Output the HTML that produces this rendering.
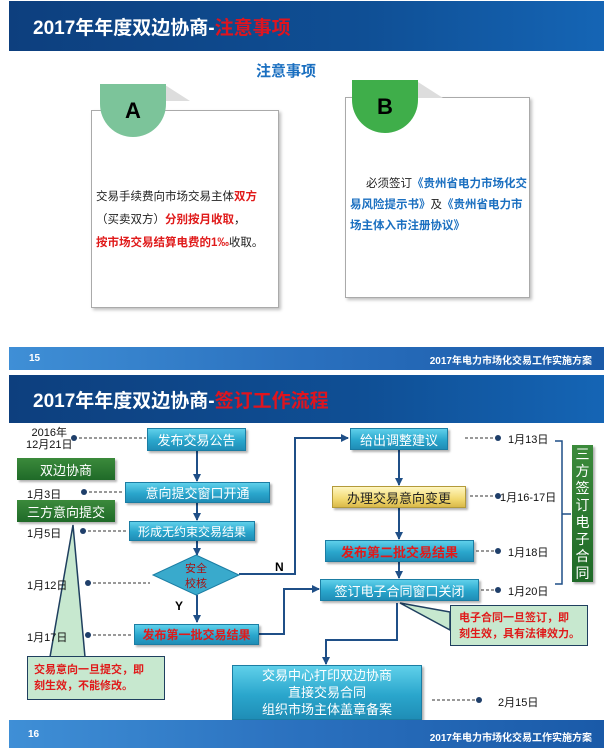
<!DOCTYPE html>
<html><head><meta charset="utf-8"><style>
*{margin:0;padding:0;box-sizing:border-box}
body{width:605px;height:748px;background:#fff;position:relative;overflow:hidden;font-family:"Liberation Sans","Noto Sans CJK SC",sans-serif}
.a{position:absolute}
.hdr{background:linear-gradient(90deg,#0d3f7e,#0f4f95 60%,#1565b5);color:#fff;font-weight:bold;font-size:19px;padding-left:24px;display:flex;align-items:center}
.hdr span{color:#e0141e}
.ftr{background:linear-gradient(90deg,#3f8fd6,#2a70be 50%,#1a5aa8);color:#fff;font-weight:bold;font-size:10px}
.bx{position:absolute;background:linear-gradient(#5fd0ea,#2aa6cc 55%,#1f8db6);border:1px solid #1b7da3;color:#fff;font-size:13px;display:flex;align-items:center;justify-content:center;box-shadow:2px 2px 2px rgba(0,0,0,.3);white-space:nowrap}
.red{color:#e01a1a;font-weight:bold}
.gr{position:absolute;background:linear-gradient(#3b8a3b,#1f6a28);color:#fff;font-size:13px;display:flex;align-items:center;justify-content:center;box-shadow:2px 2px 2px rgba(0,0,0,.3)}
.dt{position:absolute;font-size:11px;color:#111;white-space:nowrap}
.card{position:absolute;background:#fff;border:1px solid #aaa;box-shadow:2px 2px 3px rgba(0,0,0,.25)}
</style></head><body>
<!-- slide 1 -->
<div class="a hdr" style="left:9px;top:1px;width:595px;height:50px">2017年年度双边协商-<span>注意事项</span></div>
<div class="a" style="left:256px;top:60px;font-size:15px;font-weight:bold;color:#1a6fc0">注意事项</div>
<div class="card" style="left:91px;top:110px;width:188px;height:198px"></div>
<div class="a" style="left:165px;top:85px;width:0;height:0;border-left:25px solid #ddd;border-top:16px solid transparent"></div>
<div class="a" style="left:100px;top:84px;width:66px;height:53px;background:#7cc49a;border-radius:0 0 33px 33px;font-size:22px;font-weight:bold;display:flex;align-items:center;justify-content:center">A</div>
<div class="a" style="left:96px;top:186px;font-size:11.5px;line-height:23px;color:#222">交易手续费向市场交易主体<span class="red">双方</span><br>（买卖双方）<span class="red">分别按月收取</span>，<br><span class="red">按市场交易结算电费的1‰</span>收取。</div>
<div class="card" style="left:345px;top:97px;width:185px;height:201px"></div>
<div class="a" style="left:418px;top:82px;width:0;height:0;border-left:25px solid #ddd;border-top:16px solid transparent"></div>
<div class="a" style="left:352px;top:80px;width:66px;height:53px;background:#3fae4a;border-radius:0 0 33px 33px;font-size:22px;font-weight:bold;display:flex;align-items:center;justify-content:center">B</div>
<div class="a" style="left:350px;top:174px;width:180px;font-size:11.5px;line-height:21px;color:#222;text-indent:16px">必须签订<b style="color:#1a6fc0">《贵州省电力市场化交易风险提示书》</b>及<b style="color:#1a6fc0">《贵州省电力市场主体入市注册协议》</b></div>
<div class="a ftr" style="left:9px;top:347px;width:595px;height:23px"><span class="a" style="left:20px;top:6px">15</span><span class="a" style="right:12px;top:5px">2017年电力市场化交易工作实施方案</span></div>

<!-- slide 2 -->
<div class="a hdr" style="left:9px;top:375px;width:595px;height:48px">2017年年度双边协商-<span>签订工作流程</span></div>
<svg class="a" style="left:0;top:0" width="605" height="748">
<defs><marker id="ar" markerUnits="userSpaceOnUse" markerWidth="9" markerHeight="9" refX="7" refY="4.5" orient="auto"><path d="M0,0.5L8,4.5L0,8.5z" fill="#1f4f87"/></marker></defs>
<g stroke="#1f4f87" stroke-width="2" fill="none">
<path d="M197,451V481" marker-end="url(#ar)"/>
<path d="M197,503V520" marker-end="url(#ar)"/>
<path d="M197,541V555" marker-end="url(#ar)"/>
<path d="M197,595V622" marker-end="url(#ar)"/>
<path d="M239,574H295V438H348" marker-end="url(#ar)"/>
<path d="M259,634H284V589H319" marker-end="url(#ar)"/>
<path d="M399,450V485" marker-end="url(#ar)"/>
<path d="M399,508V539" marker-end="url(#ar)"/>
<path d="M399,562V578" marker-end="url(#ar)"/>
<path d="M397,603V640H326V664" marker-end="url(#ar)"/>
<path d="M555,441H562V584H555M562,514H571" stroke-width="1.5"/>
</g>
<g stroke="#333" stroke-dasharray="3,2" stroke-width="1">
<path d="M74,438H146M84,492H124M83,531H128M88,583H150M88,635H133M465,438H496M470,496H496M476,551H496M481,590H496M432,700H478"/>
</g>
<g fill="#1f3f6a">
<circle cx="74" cy="438" r="3"/><circle cx="84" cy="492" r="3"/><circle cx="83" cy="531" r="3"/><circle cx="88" cy="583" r="3"/><circle cx="88" cy="635" r="3"/>
<circle cx="498" cy="438" r="3"/><circle cx="498" cy="496" r="3"/><circle cx="498" cy="551" r="3"/><circle cx="498" cy="590" r="3"/><circle cx="479" cy="700" r="3"/>
</g>
<polygon points="196,555 239,575 196,595 153,575" fill="#39aacc" stroke="#1b7da3"/>
<text x="196" y="572" font-size="11" fill="#a11" text-anchor="middle">安全</text>
<text x="196" y="587" font-size="11" fill="#a11" text-anchor="middle">校核</text>
<text x="275" y="571" font-size="12" font-weight="bold">N</text>
<text x="175" y="610" font-size="12" font-weight="bold">Y</text>
<polygon points="73,525 50,657 85,657" fill="#c7e8cf" stroke="#1f3f5f" stroke-width="1.5"/>
<polygon points="400,603 450,612 450,630" fill="#c7e8cf" stroke="#1f3f5f" stroke-width="1.5"/>
</svg>
<div class="dt" style="left:26px;top:427px;line-height:12px;text-align:center">2016年<br>12月21日</div>
<div class="bx" style="left:147px;top:428px;width:99px;height:23px">发布交易公告</div>
<div class="gr" style="left:17px;top:458px;width:98px;height:22px">双边协商</div>
<div class="dt" style="left:27px;top:486px">1月3日</div>
<div class="bx" style="left:125px;top:482px;width:145px;height:21px">意向提交窗口开通</div>
<div class="gr" style="left:17px;top:500px;width:98px;height:22px">三方意向提交</div>
<div class="dt" style="left:27px;top:525px">1月5日</div>
<div class="bx" style="left:129px;top:521px;width:126px;height:20px;font-size:12px">形成无约束交易结果</div>
<div class="dt" style="left:27px;top:577px">1月12日</div>
<div class="dt" style="left:27px;top:629px">1月17日</div>
<div class="bx" style="left:134px;top:624px;width:125px;height:21px;font-size:12px"><span class="red">发布第一批交易结果</span></div>
<div class="a" style="left:27px;top:656px;width:138px;height:44px;background:#c7e8cf;border:1.5px solid #1f3f5f;font-size:11px;line-height:16px;padding:5px 0 0 6px" ><span class="red">交易意向一旦提交，即<br>刻生效，不能修改。</span></div>
<div class="bx" style="left:232px;top:665px;width:190px;height:55px;flex-direction:column;font-size:13px;line-height:17px;text-align:center">交易中心打印双边协商<br>直接交易合同<br>组织市场主体盖章备案</div>
<div class="bx" style="left:350px;top:428px;width:98px;height:22px">给出调整建议</div>
<div class="dt" style="left:508px;top:431px">1月13日</div>
<div class="bx" style="left:332px;top:486px;width:134px;height:22px;background:linear-gradient(#fff6c0,#f2d970 60%,#d9b94a);border-color:#b39a3a;color:#222">办理交易意向变更</div>
<div class="dt" style="left:500px;top:489px">1月16-17日</div>
<div class="bx" style="left:325px;top:540px;width:149px;height:22px"><span class="red">发布第二批交易结果</span></div>
<div class="dt" style="left:508px;top:544px">1月18日</div>
<div class="bx" style="left:320px;top:579px;width:159px;height:22px">签订电子合同窗口关闭</div>
<div class="dt" style="left:508px;top:583px">1月20日</div>
<div class="gr" style="left:572px;top:445px;width:21px;height:137px;flex-direction:column;line-height:17px;font-size:14px">三<br>方<br>签<br>订<br>电<br>子<br>合<br>同</div>
<div class="a" style="left:450px;top:605px;width:138px;height:41px;background:#c7e8cf;border:1.5px solid #1f3f5f;font-size:11px;line-height:16px;padding:4px 0 0 8px"><span class="red">电子合同一旦签订，即<br>刻生效，具有法律效力。</span></div>
<div class="dt" style="left:498px;top:694px">2月15日</div>
<div class="a ftr" style="left:9px;top:720px;width:595px;height:28px"><span class="a" style="left:19px;top:9px">16</span><span class="a" style="right:12px;top:9px">2017年电力市场化交易工作实施方案</span></div>
</body></html>
